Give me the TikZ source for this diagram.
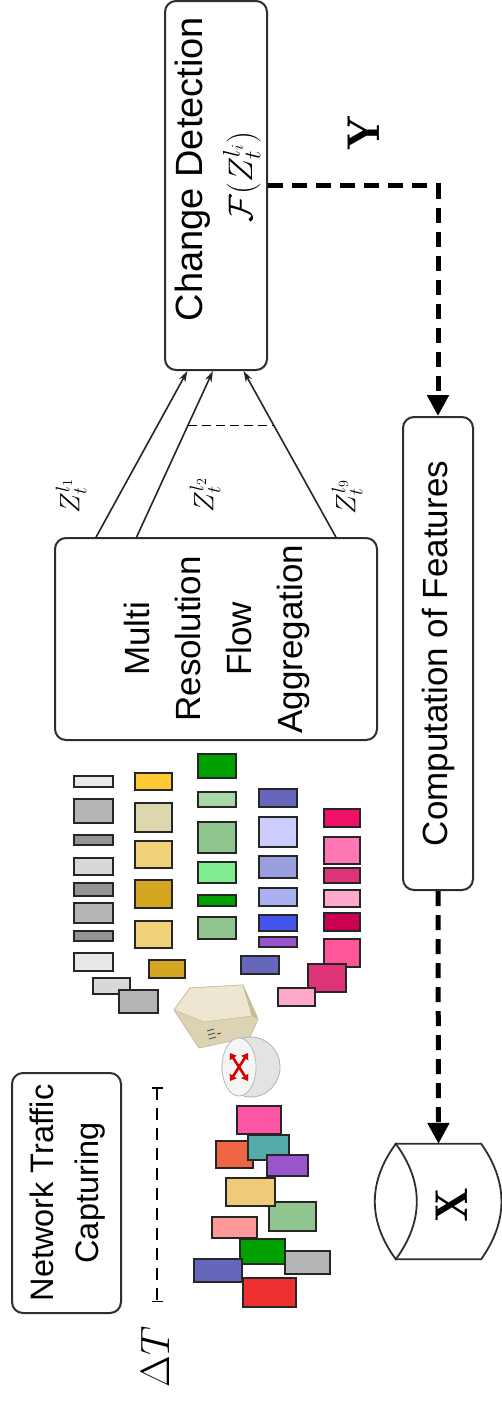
\RequirePackage{fix-cm}
\documentclass[tikz,border=0pt]{standalone}
\usepackage{fontspec}
\usepackage{graphicx}
\newfontfamily\labelfont{Liberation Sans}
\usetikzlibrary{arrows.meta,calc}

\definecolor{boxline}{HTML}{2E2E2E}
% packet colours
\definecolor{gA}{HTML}{E8E8E8}
\definecolor{gB}{HTML}{B5B5B5}
\definecolor{gC}{HTML}{959595}
\definecolor{gD}{HTML}{D8D8D8}
\definecolor{yA}{HTML}{FFC933}
\definecolor{yB}{HTML}{DDD7AD}
\definecolor{yC}{HTML}{F0D27A}
\definecolor{yD}{HTML}{D4A520}
\definecolor{nA}{HTML}{00A000}
\definecolor{nB}{HTML}{A8D8A8}
\definecolor{nC}{HTML}{90C590}
\definecolor{nD}{HTML}{80EE90}
\definecolor{bA}{HTML}{6666BB}
\definecolor{bB}{HTML}{CCCCFF}
\definecolor{bC}{HTML}{9AA0DD}
\definecolor{bD}{HTML}{AAB0F0}
\definecolor{bE}{HTML}{4455EE}
\definecolor{bF}{HTML}{9955CC}
\definecolor{pA}{HTML}{EE1166}
\definecolor{pB}{HTML}{FF77B5}
\definecolor{pC}{HTML}{DD3377}
\definecolor{pD}{HTML}{FFAACC}
\definecolor{pE}{HTML}{CC0050}
\definecolor{pF}{HTML}{FF5599}
\definecolor{tealpkt}{HTML}{55AAAA}
\definecolor{orangepkt}{HTML}{EE6644}
\definecolor{yellowpkt}{HTML}{EECC77}
\definecolor{salmonpkt}{HTML}{FF9999}
\definecolor{redpkt}{HTML}{EE3030}
\definecolor{hotpkt}{HTML}{FF55A5}
\definecolor{srvtop}{HTML}{EDE6D0}
\definecolor{srvfront}{HTML}{DCD2B4}
\definecolor{srvside}{HTML}{C9BD98}

\newcommand\pktrect[5]{\filldraw[pkt,fill=#5] (#1,#2) rectangle (#3,#4);}

\begin{document}
\begin{tikzpicture}[x=1pt,y=-1pt,
  box/.style={draw=boxline,line width=2pt,rounded corners=11pt,fill=white,inner sep=0pt},
  flow/.style={draw=black!85,line width=1.6pt,-{Stealth[length=11pt,width=7pt]}},
  thickdash/.style={line width=5pt,dash pattern=on 15pt off 9pt,-{Triangle[width=21pt,length=21pt]}},
  pkt/.style={draw=black!85,line width=1.3pt},
  rlabel/.style={rotate=90,inner sep=0pt}]
\fill[white] (0,0) rectangle (501,1401);
\useasboundingbox (0,0) rectangle (501,1401);

% ---- processing blocks ----
\node[box,minimum width=102pt,minimum height=369pt] (cd) at (216,185.5) {};
\node[rlabel,anchor=base,font=\labelfont\fontsize{38}{44}\selectfont] (cdtitle) at (202,169) {Change Detection};
\node[rlabel,anchor=base,font=\fontsize{34}{40}\selectfont] (cdfun) at (252,177) {$\mathcal{F}(Z_t^{l_i})$};

\node[box,minimum width=322pt,minimum height=202pt] (mrfa) at (216,639)
  {\rotatebox{90}{\labelfont\fontsize{35}{51}\selectfont\begin{tabular}{@{}c@{}}Multi\\Resolution\\Flow\\Aggregation\end{tabular}}};

\node[box,minimum width=70pt,minimum height=473pt] (comp) at (438,653.5)
  {\rotatebox{90}{\labelfont\fontsize{35}{42}\selectfont Computation of Features}};

\node[box,minimum width=109pt,minimum height=240pt] (ntc) at (66.5,1193)
  {\rotatebox{90}{\labelfont\fontsize{32.5}{45}\selectfont\begin{tabular}{@{}c@{}}Network Traffic\\Capturing\end{tabular}}};

% ---- feature store ----
\node[minimum width=85pt,minimum height=115pt,inner sep=0pt] (db) at (438.5,1201.5) {};
\filldraw[draw=boxline,line width=1.8pt,fill=white] (db.north west) -- (db.north east)
  .. controls +(27,38) and +(27,-38) .. (db.south east) -- (db.south west) -- cycle;
\filldraw[draw=boxline,line width=1.8pt,fill=white] (db.north west)
  .. controls +(-28,38) and +(-28,-38) .. (db.south west)
  .. controls +(28,-38) and +(28,38) .. (db.north west) -- cycle;
\node[rlabel,font=\fontsize{46}{50}\selectfont] (xlab) at (452,1205) {$\mathbf{X}$};

% ---- resolutions fed to change detection ----
\coordinate (s1) at ($(mrfa.north west)!0.13!(mrfa.north east)$);
\coordinate (s2) at ($(mrfa.north west)!0.255!(mrfa.north east)$);
\coordinate (s3) at ($(mrfa.north west)!0.87!(mrfa.north east)$);
\coordinate (e1) at ($(cd.south west)!0.225!(cd.south east)$);
\coordinate (e2) at ($(cd.south west)!0.47!(cd.south east)$);
\coordinate (e3) at ($(cd.south west)!0.765!(cd.south east)$);
\draw[flow] (s1) -- (e1);
\draw[flow] (s2) -- (e2);
\draw[flow] (s3) -- (e3);
\draw[line width=1.4pt,dash pattern=on 9pt off 5pt] ($(s2)!0.673!(e2)$) -- ($(s3)!0.673!(e3)$);
\node[rlabel,font=\fontsize{28}{32}\selectfont] (z1) at (71,496) {$Z_t^{l_1}$};
\node[rlabel,font=\fontsize{28}{32}\selectfont] (z2) at (205,495) {$Z_t^{l_2}$};
\node[rlabel,font=\fontsize{28}{32}\selectfont] (z3) at (347,497) {$Z_t^{l_9}$};

% ---- feedback path ----
\draw[thickdash] (cd.east) -| (comp.north);
\draw[thickdash] (comp.south) -- (db.north);
\node[rlabel,font=\fontsize{46}{50}\selectfont] (ylab) at (364,133) {$\mathbf{Y}$};

% ---- capture window ----
\coordinate (dtop) at (157,1087);
\coordinate (dbot) at (157,1302);
\draw[line width=1.5pt,dash pattern=on 12pt off 8pt,{Bar[width=11pt]}-{Bar[width=11pt]}] (dtop) -- (dbot);
\node[rlabel,font=\fontsize{41}{46}\selectfont] (dtlab) at (155,1357) {$\Delta T$};

% ---- aggregated packet streams ----
% grey stream
\pktrect{74}{776}{113}{787}{gA}
\pktrect{74}{799}{113}{823}{gB}
\pktrect{74}{835}{113}{845}{gC}
\pktrect{74}{858}{113}{875}{gD}
\pktrect{74}{883}{113}{896}{gC}
\pktrect{74}{903}{113}{923}{gB}
\pktrect{74}{931}{113}{941}{gC}
\pktrect{74}{953}{113}{971}{gA}
\pktrect{93}{978}{130}{994}{gD}
\pktrect{119}{990}{158}{1013}{gB}
% gold stream
\pktrect{135}{773}{172}{790}{yA}
\pktrect{135}{803}{172}{832}{yB}
\pktrect{135}{841}{172}{868}{yC}
\pktrect{135}{880}{172}{908}{yD}
\pktrect{135}{921}{172}{948}{yC}
\pktrect{149}{960}{185}{978}{yD}
% green stream
\pktrect{198}{754}{236}{778}{nA}
\pktrect{198}{792}{236}{807}{nB}
\pktrect{198}{822}{236}{853}{nC}
\pktrect{198}{862}{236}{883}{nD}
\pktrect{198}{895}{236}{906}{nA}
\pktrect{198}{917}{236}{939}{nC}
% blue stream
\pktrect{259}{789}{297}{807}{bA}
\pktrect{259}{817}{297}{847}{bB}
\pktrect{259}{856}{297}{878}{bC}
\pktrect{259}{888}{297}{906}{bD}
\pktrect{259}{915}{297}{931}{bE}
\pktrect{259}{937}{297}{947}{bF}
\pktrect{241}{956}{279}{974}{bA}
% pink stream
\pktrect{324}{809}{360}{827}{pA}
\pktrect{324}{837}{360}{864}{pB}
\pktrect{324}{868}{360}{883}{pC}
\pktrect{324}{890}{360}{907}{pD}
\pktrect{324}{913}{360}{931}{pE}
\pktrect{324}{939}{360}{967}{pF}
\pktrect{308}{964}{346}{992}{pC}
\pktrect{278}{988}{315}{1006}{pD}

% ---- capture point: server ----
\filldraw[draw=srvside,line width=0.8pt,fill=srvfront] (174,1010) -- (190,988) -- (243,985) -- (258,1019) -- (250,1037) -- (199,1048) -- cycle;
\filldraw[draw=srvside,line width=0.6pt,fill=srvtop] (174,1010) -- (190,988) -- (243,985) -- (252,1016) -- (204,1022) -- cycle;
\fill[srvside] (243,985) -- (258,1019) -- (252,1016) -- cycle;
\draw[gray!70!black,line width=1pt] (207,1031) -- (214,1029) (208,1035) -- (215,1033) (209,1039) -- (216,1037);
\draw[red!70!black,line width=0.8pt] (217,1034) -- (221,1033);
% ---- capture point: router ----
\filldraw[draw=gray!60,line width=0.8pt,fill=gray!22] (251,1067) ellipse [x radius=29pt,y radius=30pt];
\filldraw[draw=gray!55,line width=0.8pt,fill=gray!8] (239,1067) ellipse [x radius=17pt,y radius=29pt];
\foreach \dx/\dy in {9/14,-9/14,9/-14,-9/-14}
  \draw[red!85!black,line width=2.6pt,-{Triangle[length=6pt,width=8pt]}] (239,1067) -- ++(\dx,\dy);

% ---- raw captured packets ----
\pktrect{237}{1106}{281}{1134}{hotpkt}
\pktrect{216}{1141}{253}{1168}{orangepkt}
\pktrect{248}{1135}{289}{1160}{tealpkt}
\pktrect{267}{1155}{308}{1176}{bF}
\pktrect{269}{1202}{316}{1231}{nC}
\pktrect{226}{1178}{275}{1206}{yellowpkt}
\pktrect{212}{1217}{257}{1238}{salmonpkt}
\pktrect{240}{1239}{285}{1264}{nA}
\pktrect{285}{1251}{330}{1274}{gB}
\pktrect{194}{1259}{242}{1282}{bA}
\pktrect{243}{1278}{296}{1307}{redpkt}
\end{tikzpicture}
\end{document}
